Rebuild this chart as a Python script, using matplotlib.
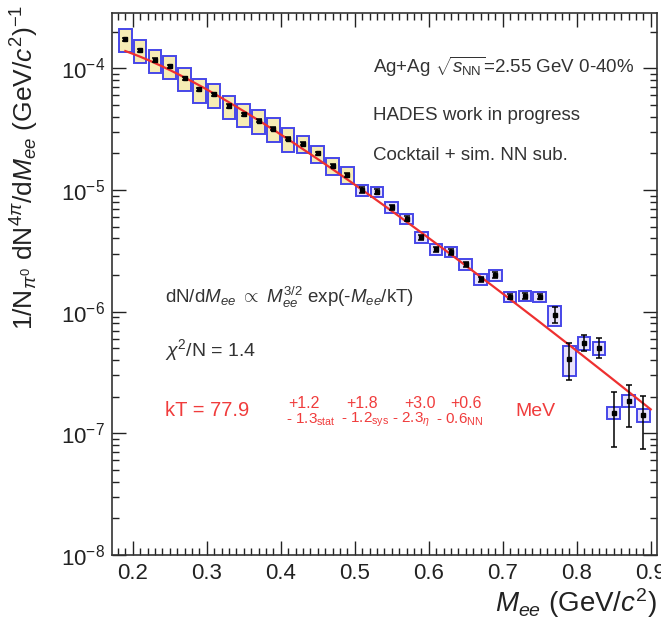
import numpy as np
import matplotlib
matplotlib.use("Agg")
import matplotlib.pyplot as plt
from matplotlib.patches import Rectangle
from matplotlib.ticker import LogLocator, MultipleLocator, NullFormatter, FixedLocator

plt.rcParams['font.family'] = ['Liberation Sans', 'DejaVu Sans']
plt.rcParams['mathtext.fontset'] = 'custom'
plt.rcParams['mathtext.rm'] = 'Liberation Sans'
plt.rcParams['mathtext.it'] = 'Liberation Sans:italic'
plt.rcParams['mathtext.bf'] = 'Liberation Sans:bold'

# ---------------------------------------------------------------- data
mass = [0.19, 0.21, 0.23, 0.25, 0.27, 0.29, 0.31, 0.33, 0.35, 0.37, 0.39, 0.41,
        0.43, 0.45, 0.47, 0.49, 0.51, 0.53, 0.55, 0.57, 0.59, 0.61, 0.63, 0.65,
        0.67, 0.69, 0.71, 0.73, 0.75, 0.77, 0.79, 0.81, 0.83, 0.85, 0.87, 0.89]
yields = [1.74e-4, 1.41e-4, 1.17e-4, 1.04e-4, 8.3e-5, 6.7e-5, 6.1e-5, 4.9e-5,
          4.2e-5, 3.7e-5, 3.2e-5, 2.65e-5, 2.4e-5, 2.0e-5, 1.58e-5, 1.33e-5,
          1.0e-5, 9.7e-6, 7.2e-6, 5.8e-6, 4.1e-6, 3.25e-6, 3.1e-6, 2.45e-6,
          1.84e-6, 2.0e-6, 1.33e-6, 1.35e-6, 1.33e-6, 9.4e-7, 4.1e-7, 5.5e-7,
          5.0e-7, 1.48e-7, 1.86e-7, 1.41e-7]
# relative statistical errors (down, up)
stat_lo = [0.03] * 16 + [0.05] * 13 + [0.14, 0.33, 0.14, 0.17, 0.48, 0.39, 0.47]
stat_hi = [0.03] * 16 + [0.05] * 13 + [0.16, 0.36, 0.16, 0.21, 0.49, 0.35, 0.43]
# relative systematic errors (boxes)
sys_rel = [0.22] * 12 + [0.16] * 4 + [0.10] * 13 + [0.19, 0.28, 0.12, 0.12, 0.12, 0.12, 0.12]

# fit  dN/dM ~ M^3/2 exp(-M/kT)
kT_fit = 0.0779      # GeV
fit_norm = 0.0192
fit_range = (0.19, 0.90)

xticks = [0.2, 0.3, 0.4, 0.5, 0.6, 0.7, 0.8, 0.9]
xtick_labels = ['0.2', '0.3', '0.4', '0.5', '0.6', '0.7', '0.8', '0.9']

# ---------------------------------------------------------------- figure
W, H = 661, 620
fig = plt.figure(figsize=(W / 100, H / 100), dpi=100)
ax = fig.add_axes([112 / W, 1 - 555 / H, (657 - 112) / W, (555 - 13) / H])
ax.set_yscale('log')
ax.set_xlim(0.172, 0.9085)
ax.set_ylim(1e-8, 2.85e-4)

m = np.array(mass)
y = np.array(yields)

# systematic boxes
box_w = 0.017
for i in range(len(m)):
    lo = y[i] * (1 - sys_rel[i])
    hi = y[i] * (1 + sys_rel[i])
    fc = '#f6ecb4' if i < 16 else '#e8e2fb'
    ax.add_patch(Rectangle((m[i] - box_w / 2, lo), box_w, hi - lo,
                           facecolor=fc, edgecolor='#4646e8', lw=1.4, zorder=2))

# fit line
mf = np.linspace(fit_range[0], fit_range[1], 200)
ax.plot(mf, fit_norm * mf ** 1.5 * np.exp(-mf / kT_fit), color='#ee3030', lw=1.6, zorder=3)

# data with stat errors
yerr = [y * np.array(stat_lo), y * np.array(stat_hi)]
ax.errorbar(m, y, yerr=yerr, fmt='s', color='black', ms=3, lw=1.1,
            capsize=2.5, capthick=1.1, zorder=4)

# axes style
ax.tick_params(which='both', direction='in', top=True, right=True,
               labelsize=16, colors='#222222', width=1.0)
ax.tick_params(which='major', length=10)
ax.tick_params(which='minor', length=5)
ax.tick_params(axis='x', pad=6)
ax.tick_params(axis='y', pad=5)
ax.xaxis.set_major_locator(FixedLocator(xticks))
ax.set_xticklabels(xtick_labels)
ax.xaxis.set_minor_locator(MultipleLocator(0.01))
ax.yaxis.set_major_locator(LogLocator(base=10, numticks=10))
ax.yaxis.set_minor_locator(LogLocator(base=10, subs=np.arange(2, 10), numticks=20))
ax.yaxis.set_minor_formatter(NullFormatter())
for s in ax.spines.values():
    s.set_linewidth(1.2)
    s.set_color('#333333')

ax.set_ylabel(r'1/N$_{\pi^0}$ dN$^{4\pi}$/d$M_{ee}$ (GeV/$c^2$)$^{-1}$',
              fontsize=19, loc='top', color='#222222')
ax.yaxis.set_label_coords(-0.13, 1.015)
ax.set_xlabel(r'$M_{ee}$ (GeV/$c^2$)', fontsize=20, loc='right', color='#222222')
ax.xaxis.set_label_coords(1.0, -0.058)

# annotations
def ftxt(px, py, s, **kw):
    fig.text(px / W, 1 - py / H, s, va='center', ha='left', **kw)

grey = '#333333'
ftxt(373, 67, r'Ag+Ag $\sqrt{s_{\rm NN}}$=2.55 GeV 0-40%', fontsize=13.5, color=grey)
ftxt(373, 115, 'HADES work in progress', fontsize=13.5, color=grey)
ftxt(373, 155, 'Cocktail + sim. NN sub.', fontsize=13.5, color=grey)

ftxt(165, 297, r'dN/d$M_{ee}$ $\propto$ $M_{ee}^{3/2}$ exp(-$M_{ee}$/kT)', fontsize=13.5, color=grey)
ftxt(165, 350, r'$\chi^2$/N = 1.4', fontsize=14, color=grey)

red = '#f03c3c'
ftxt(165, 411, 'kT = 77.9', fontsize=14.5, color=red)
ftxt(288, 404, '+1.2', fontsize=11.5, color=red)
ftxt(286, 420, r'- 1.3$_{\rm stat}$', fontsize=11, color=red)
ftxt(346, 404, '+1.8', fontsize=11.5, color=red)
ftxt(341, 420, r'- 1.2$_{\rm sys}$', fontsize=11, color=red)
ftxt(404, 404, '+3.0', fontsize=11.5, color=red)
ftxt(392, 420, r'- 2.3$_{\eta}$', fontsize=11, color=red)
ftxt(450, 404, '+0.6', fontsize=11.5, color=red)
ftxt(436, 420, r'- 0.6$_{\rm NN}$', fontsize=11, color=red)
ftxt(515, 411, 'MeV', fontsize=14, color=red)

fig.savefig('out.png', dpi=100)
